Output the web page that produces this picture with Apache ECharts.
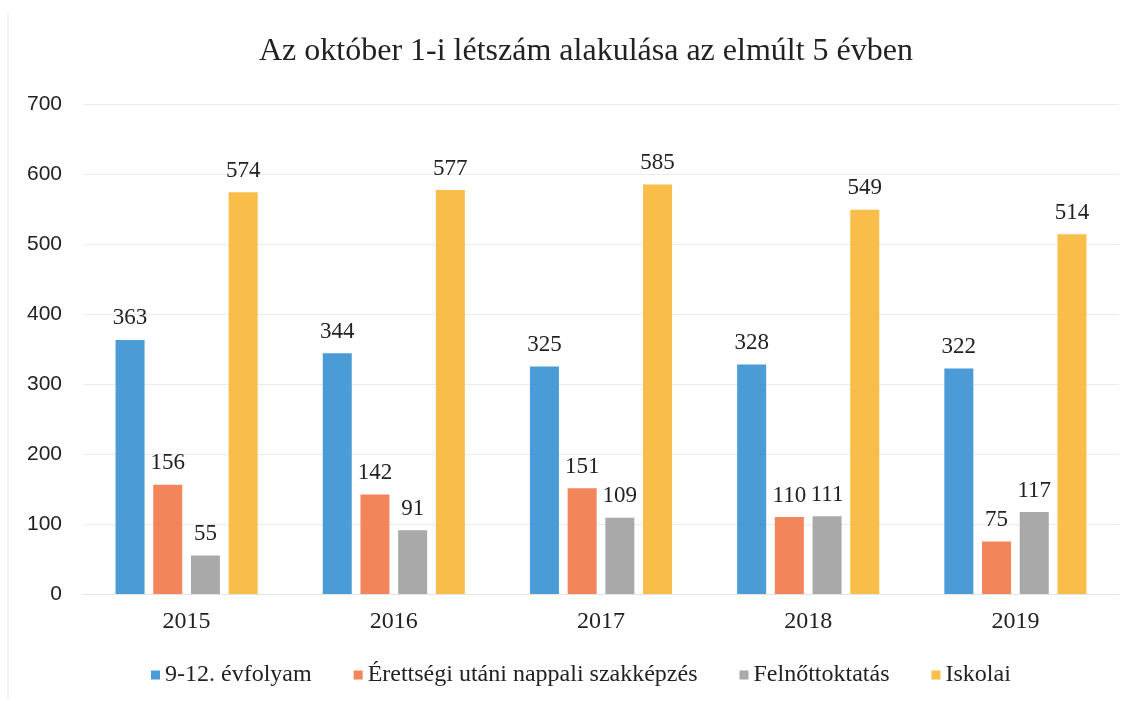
<!DOCTYPE html>
<html lang="hu">
<head>
    <meta charset="UTF-8">
    <meta name="viewport" content="width=device-width, initial-scale=1.0">
    <script type="text/javascript" src="https://cdn.jsdelivr.net/npm/echarts@6/dist/echarts.min.js"></script>
    <title>Létszám alakulása</title>
    <style type="text/css">
        html, body { margin: 0; padding: 0; background: #fff; }
        #chart { width: 1139px; height: 706px; }
    </style>
</head>
<body>
    <div id="chart"></div>
    <script type="text/javascript">
        let years = ['2015', '2016', '2017', '2018', '2019']
        let evfolyam = [363, 344, 325, 328, 322]        // 9-12. évfolyam
        let szakkepzes = [156, 142, 151, 110, 75]       // Érettségi utáni nappali szakképzés
        let felnott = [55, 91, 109, 111, 117]           // Felnőttoktatás
        let iskolai = [574, 577, 585, 549, 514]         // Iskolai
        let yTicks = [0, 100, 200, 300, 400, 500, 600, 700]

        let serif = '"Liberation Serif", "DejaVu Serif", serif'
        let sans = '"Liberation Sans", "Open Sans", sans-serif'

        function bar(name, data, color) {
            return {
                name: name,
                type: 'bar',
                data: data,
                barWidth: 29,
                barGap: '30%',
                itemStyle: { color: color },
                label: {
                    show: true,
                    position: 'top',
                    distance: 10,
                    color: '#222',
                    fontFamily: serif,
                    fontSize: 23
                }
            }
        }

        var myChart = echarts.init(document.getElementById('chart'))
        var option = {
            backgroundColor: '#fff',
            animation: false,
            title: {
                text: 'Az október 1-i létszám alakulása az elmúlt 5 évben',
                left: 254,
                top: 31,
                textStyle: {
                    fontFamily: serif,
                    fontWeight: 'normal',
                    fontSize: 32,
                    color: '#222'
                }
            },
            legend: {
                bottom: 14,
                left: 146,
                itemWidth: 9,
                itemHeight: 9,
                itemGap: 42,
                icon: 'rect',
                textStyle: { fontFamily: serif, fontSize: 24, color: '#222' }
            },
            grid: { left: 83, right: 20, top: 104, bottom: 112 },
            xAxis: {
                type: 'category',
                data: years,
                axisTick: { show: false },
                axisLine: { lineStyle: { color: '#e4e4e4' } },
                axisLabel: { fontFamily: serif, fontSize: 24, color: '#222', margin: 16 }
            },
            yAxis: {
                type: 'value',
                min: yTicks[0],
                max: yTicks[yTicks.length - 1],
                interval: 100,
                axisLine: { show: false },
                axisTick: { show: false },
                splitLine: { lineStyle: { color: '#ececec' } },
                axisLabel: { fontFamily: sans, fontSize: 21, color: '#222', margin: 21 }
            },
            graphic: [{
                type: 'line',
                shape: { x1: 8, y1: 14, x2: 8, y2: 700 },
                style: { stroke: '#e6e6e6', lineWidth: 1 }
            }],
            series: [
                bar('9-12. évfolyam', evfolyam, '#4a9bd6'),
                bar('Érettségi utáni nappali szakképzés', szakkepzes, '#f2865a'),
                bar('Felnőttoktatás', felnott, '#a9a9a9'),
                bar('Iskolai', iskolai, '#f9bd4a')
            ]
        }
        option && myChart.setOption(option)
    </script>
</body>
</html>
